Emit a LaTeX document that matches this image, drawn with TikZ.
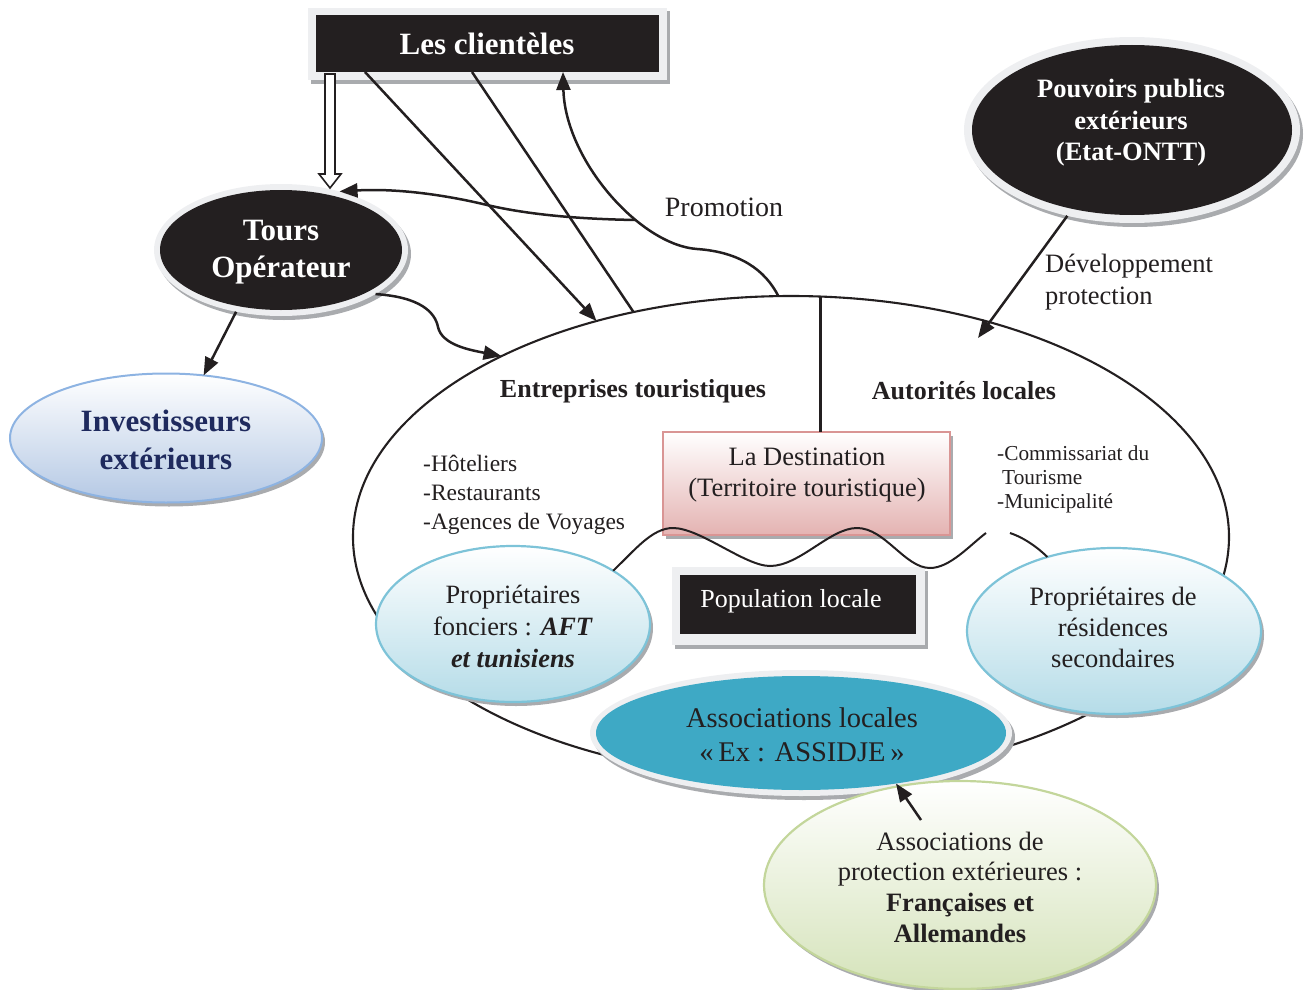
\documentclass[tikz,border=0pt]{standalone}
\usepackage{fontspec}
\setmainfont{Liberation Serif}
\usetikzlibrary{arrows.meta,shapes.geometric,calc}
\definecolor{ink}{HTML}{231F20}
\definecolor{ringc}{HTML}{EEEFF1}
\definecolor{shadc}{HTML}{A9ABAE}
\definecolor{navy}{HTML}{1F2A5E}
\definecolor{invB}{HTML}{8DB3E2}
\definecolor{invF}{HTML}{B4C8E4}
\definecolor{cyB}{HTML}{7DC3D8}
\definecolor{cyF}{HTML}{B5DCE8}
\definecolor{pkB}{HTML}{D99594}
\definecolor{pkF}{HTML}{E4B3B2}
\definecolor{grB}{HTML}{C3D69B}
\definecolor{grF}{HTML}{D5E3BA}
\definecolor{tealc}{HTML}{3EA9C5}
\newcommand\fsz[2]{\fontsize{#1pt}{#2pt}\selectfont}
\begin{document}
\begin{tikzpicture}[x=1pt,y=-1pt,
  ell/.style={ellipse, inner sep=0pt, outer sep=0pt},
  rbox/.style={rectangle, inner sep=0pt, outer sep=0pt},
  shd/.style={fill=shadc, draw=none},
  conn/.style={draw=ink, line width=2.5pt},
  arr/.style={conn, -{Triangle[length=18pt,width=14pt]}},
  txt/.style={text=ink, inner sep=0pt, align=center},
  wtxt/.style={text=white, inner sep=0pt, align=center},
  hollow/.style={draw=ink, line width=1.6pt, fill=white, line join=miter}
]
\useasboundingbox (0,0) rectangle (1307,990);

% ---------- big ellipse (territory) ----------
\node[ell, draw=ink, line width=2.1pt, minimum width=876pt, minimum height=482pt] (big) at (791,537) {};

% ---------- Les clientèles ----------
\fill[shd] (311,11) rectangle (670,84);
\fill[ringc] (308,8) rectangle (667,80);
\node[rbox, fill=ink, minimum width=343pt, minimum height=57pt] (lc) at (487.5,43.5) {};
\node[wtxt, font=\bfseries\fsz{31}{37}] (lct) at (487,44) {Les clientèles};

% ---------- Tours Opérateur ----------
\node[ell, shd, minimum width=254pt, minimum height=132pt] (tosh) at (284,254) {};
\node[ell, fill=ringc, minimum width=254pt, minimum height=132pt] (to) at (281,250) {};
\node[ell, fill=ink, minimum width=242pt, minimum height=120pt] (toin) at (281,250) {};
\node[wtxt, font=\bfseries\fsz{31}{37}] (tot) at (281,252) {Tours\\Opérateur};

% ---------- Pouvoirs publics ----------
\node[ell, shd, minimum width=336pt, minimum height=186pt] (ppsh) at (1135,134) {};
\node[ell, fill=ringc, minimum width=336pt, minimum height=186pt] (pp) at (1132,130) {};
\node[ell, fill=ink, minimum width=320pt, minimum height=170pt] (ppin) at (1132,130) {};
\node[wtxt, font=\bfseries\fsz{26.5}{31.5}] (ppt) at (1131,123) {Pouvoirs publics\\extérieurs\\(Etat-ONTT)};

% ---------- Investisseurs extérieurs ----------
\node[ell, shd, minimum width=312pt, minimum height=129pt] (invsh) at (169,442) {};
\node[ell, draw=invB, line width=2pt, top color=white, bottom color=invF, minimum width=312pt, minimum height=129pt] (inv) at (166,438) {};
\node[inner sep=0pt, align=center, text=navy, font=\bfseries\fsz{31}{38}] (invt) at (166,440) {Investisseurs\\extérieurs};

% ---------- La Destination ----------
\fill[shd] (666,436) rectangle (953,539);
\node[rbox, draw=pkB, line width=2pt, top color=white, bottom color=pkF, minimum width=287pt, minimum height=103pt] (dest) at (806.5,483.5) {};
\node[txt, font=\fsz{26.5}{31}] (destt) at (807,475) {La Destination\\(Territoire touristique)};
\draw[conn, line width=2.1pt] (big.83.1) -- (dest.north -| big.83.1);

% ---------- Population locale ----------
\fill[shd] (675,571) rectangle (928,649);
\fill[ringc] (672,567) rectangle (925,645);
\node[rbox, fill=ink, minimum width=236pt, minimum height=59pt] (pop) at (798,604.5) {};
\node[wtxt, font=\fsz{26}{31}] (popt) at (791,601) {Population locale};

% ---------- Propriétaires fonciers ----------
\node[ell, shd, minimum width=274pt, minimum height=156pt] (fonsh) at (516,628) {};
\node[ell, draw=cyB, line width=2.2pt, top color=white, bottom color=cyF, minimum width=274pt, minimum height=156pt] (fon) at (513,624) {};
\node[txt, font=\fsz{26.4}{32}] (font) at (513,626) {Propriétaires\\fonciers : \textbf{\textit{AFT}}\\\textbf{\textit{et tunisiens}}};

% ---------- Propriétaires de résidences ----------
\node[ell, shd, minimum width=294pt, minimum height=166pt] (ressh) at (1117,635) {};
\node[ell, draw=cyB, line width=2.2pt, top color=white, bottom color=cyF, minimum width=294pt, minimum height=166pt] (res) at (1114,631) {};
\node[txt, font=\fsz{26.5}{31}] (rest) at (1113,627) {Propriétaires de\\résidences\\secondaires};

% ---------- Associations locales ----------
\node[ell, shd, minimum width=422pt, minimum height=126pt] (alsh) at (804,737) {};
\node[ell, fill=ringc, minimum width=422pt, minimum height=126pt] (al) at (801,733) {};
\node[ell, fill=tealc, minimum width=410pt, minimum height=114pt] (alin) at (801,733) {};
\node[txt, font=\fsz{28.5}{34}] (alt) at (802,735) {Associations locales\\«\,Ex : ASSIDJE\,»};

% ---------- Associations de protection ----------
\node[ell, shd, minimum width=392pt, minimum height=208pt] (apsh) at (963,889) {};
\node[ell, draw=grB, line width=2.2pt, top color=white, bottom color=grF, minimum width=392pt, minimum height=208pt] (ap) at (960,885) {};
\node[txt, font=\fsz{26.5}{30.7}] (apt) at (960,887) {Associations de\\protection extérieures :\\\textbf{Françaises et}\\\textbf{Allemandes}};

% ---------- free texts ----------
\node[txt, font=\bfseries\fsz{26}{31}] (ent) at (633,391) {Entreprises touristiques};
\node[txt, font=\bfseries\fsz{26}{31}] (aut) at (964,391) {Autorités locales};
\node[txt, align=left, anchor=west, font=\fsz{23.5}{28.8}] (hot) at (423,495) {-Hôteliers\\-Restaurants\\-Agences de Voyages};
\node[txt, align=left, anchor=west, font=\fsz{21.3}{24}] (com) at (997,479) {-Commissariat du\\\hspace*{5pt}Tourisme\\-Municipalité};
\node[txt, font=\fsz{28}{33}] (promo) at (724,207) {Promotion};
\node[txt, align=left, anchor=west, font=\fsz{26.5}{32}] (dev) at (1045,282) {Développement\\protection};

% ---------- connectors ----------
% hollow arrow clientèles -> Tours
\draw[hollow] ($(lc.south west)+(9,2)$) -- ++(10,0) -- ++(0,100) -- ++(6,0) -- ++(-11,14) -- ++(-11,-14) -- ++(6,0) -- cycle;
\draw[arr] ($(lc.south west)+(49,0)$) -- (big.132.5);
\draw[conn] ($(lc.south west)+(156,0)$) -- (big.125.8);
\draw[arr] (big.93.1) .. controls (765,270) and (740,252) .. (697,249)
  .. controls (640,245) and (565,160) .. ($(lc.south west)+(247,0)$);
\coordinate (pr) at (635,220);
\draw[arr] (pr) .. controls (580,219) and (530,215) .. (487,205)
  .. controls (450,196) and (400,188) .. (to.45);
\draw[arr] (to.-25) .. controls (420,297) and (435,312) .. (438,327)
  .. controls (442,345) and (470,350) .. (big.148.2);
\draw[arr] (to.-126.6) -- (inv.59);
\coordinate (dv) at (978,338);
\draw[arr] (pp.-127) -- (dv);
\coordinate (apc) at (921,820);
\draw[arr] (apc) -- (alin.-28.5);

% wave
\coordinate (w1) at (986,533);
\coordinate (w2) at (1010,533);
\draw[ink, line width=2pt] (fon.28) .. controls (635,550) and (652,528) .. (673,528)
  .. controls (700,528) and (745,566) .. (770,566)
  .. controls (800,566) and (830,528) .. (857,528)
  .. controls (885,528) and (905,568) .. (930,568)
  .. controls (950,568) and (970,545) .. (w1);
\draw[ink, line width=2pt] (w2) .. controls (1022,537) and (1035,545) .. (res.132);
\end{tikzpicture}
\end{document}
